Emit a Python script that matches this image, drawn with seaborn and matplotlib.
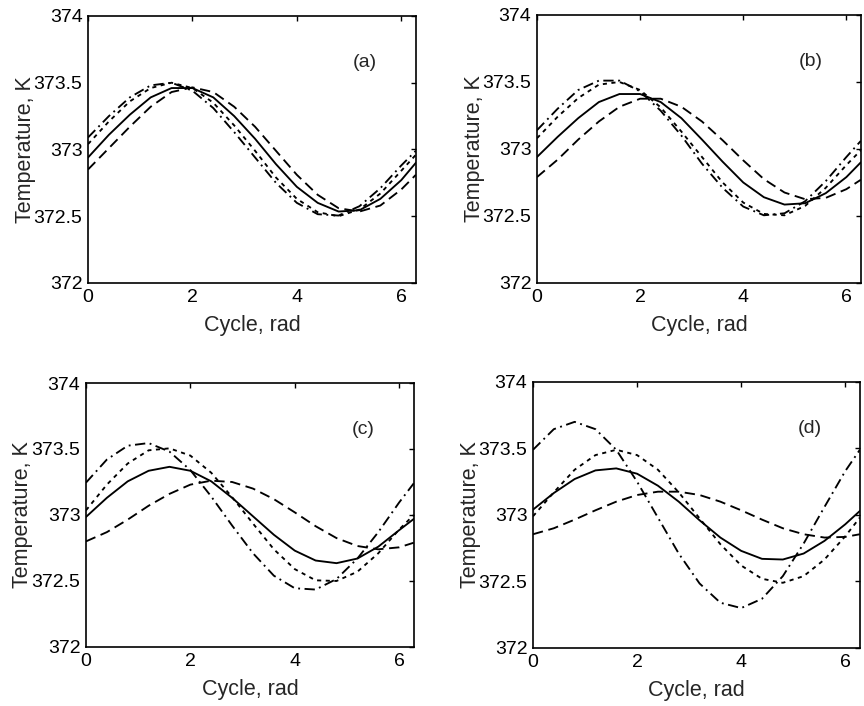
import numpy as np
import pandas as pd
import matplotlib
matplotlib.use("Agg")
import matplotlib.pyplot as plt
import seaborn as sns

# ---------------- data ----------------
cycle = [0.0, 0.4, 0.8, 1.2, 1.6, 2.0, 2.4, 2.8, 3.2, 3.6, 4.0, 4.4, 4.8, 5.2, 5.6, 6.0, 6.28]

a_solid   = [372.94, 373.11, 373.26, 373.39, 373.46, 373.46, 373.39, 373.25, 373.08, 372.89, 372.72, 372.60, 372.535, 372.545, 372.63, 372.77, 372.90]
a_dotted  = [373.04, 373.21, 373.36, 373.46, 373.50, 373.46, 373.35, 373.18, 372.99, 372.79, 372.63, 372.53, 372.50, 372.55, 372.67, 372.84, 372.96]
a_dashdot = [373.09, 373.25, 373.39, 373.48, 373.50, 373.44, 373.31, 373.13, 372.94, 372.75, 372.60, 372.515, 372.505, 372.575, 372.71, 372.88, 372.99]
a_dashed  = [372.85, 373.01, 373.17, 373.32, 373.43, 373.465, 373.43, 373.32, 373.17, 372.99, 372.81, 372.66, 372.56, 372.535, 372.58, 372.70, 372.81]

b_solid   = [372.94, 373.09, 373.23, 373.35, 373.41, 373.41, 373.35, 373.23, 373.07, 372.905, 372.75, 372.64, 372.585, 372.595, 372.67, 372.79, 372.90]
b_dotted  = [373.08, 373.24, 373.38, 373.48, 373.50, 373.44, 373.31, 373.13, 372.94, 372.75, 372.60, 372.515, 372.505, 372.575, 372.71, 372.88, 372.99]
b_dashdot = [373.14, 373.30, 373.44, 373.51, 373.51, 373.43, 373.285, 373.10, 372.89, 372.71, 372.57, 372.505, 372.52, 372.61, 372.76, 372.94, 373.06]
b_dashed  = [372.79, 372.92, 373.07, 373.205, 373.315, 373.375, 373.375, 373.315, 373.205, 373.065, 372.915, 372.775, 372.675, 372.625, 372.635, 372.70, 372.77]

c_solid   = [372.985, 373.13, 373.255, 373.335, 373.365, 373.335, 373.255, 373.13, 372.99, 372.85, 372.73, 372.655, 372.635, 372.67, 372.76, 372.885, 372.97]
c_dotted  = [373.035, 373.23, 373.39, 373.49, 373.505, 373.45, 373.32, 373.135, 372.935, 372.74, 372.59, 372.505, 372.50, 372.57, 372.71, 372.89, 373.00]
c_dashdot = [373.245, 373.42, 373.525, 373.545, 373.48, 373.34, 373.14, 372.92, 372.71, 372.54, 372.445, 372.435, 372.515, 372.67, 372.87, 373.095, 373.24]
c_dashed  = [372.80, 372.87, 372.965, 373.07, 373.16, 373.23, 373.26, 373.25, 373.20, 373.12, 373.02, 372.915, 372.825, 372.765, 372.74, 372.755, 372.79]

d_solid   = [373.04, 373.165, 373.27, 373.335, 373.35, 373.31, 373.22, 373.10, 372.96, 372.83, 372.73, 372.67, 372.665, 372.71, 372.805, 372.93, 373.03]
d_dotted  = [372.99, 373.17, 373.34, 373.45, 373.49, 373.45, 373.34, 373.17, 372.975, 372.78, 372.62, 372.52, 372.49, 372.54, 372.665, 372.84, 372.98]
d_dashdot = [373.49, 373.645, 373.70, 373.645, 373.49, 373.25, 372.98, 372.71, 372.485, 372.34, 372.30, 372.37, 372.54, 372.785, 373.06, 373.33, 373.49]
d_dashed  = [372.855, 372.90, 372.965, 373.035, 373.10, 373.15, 373.175, 373.175, 373.15, 373.10, 373.035, 372.965, 372.90, 372.855, 372.83, 372.835, 372.855]

panel_labels = ["(a)", "(b)", "(c)", "(d)"]
curve_names = ["solid", "dotted", "dashdot", "dashed"]
x_ticks = [0, 2, 4, 6]
x_tick_labels = ["0", "2", "4", "6"]
y_ticks = [372, 372.5, 373, 373.5, 374]
y_tick_labels = ["372", "372.5", "373", "373.5", "374"]
x_label = "Cycle, rad"
y_label = "Temperature, K"

panels = [
    [a_solid, a_dotted, a_dashdot, a_dashed],
    [b_solid, b_dotted, b_dashdot, b_dashed],
    [c_solid, c_dotted, c_dashdot, c_dashed],
    [d_solid, d_dotted, d_dashdot, d_dashed],
]

# ---------------- style ----------------
sns.set_style("white")
plt.rcParams['font.family'] = ['Liberation Sans', 'DejaVu Sans']

fig = plt.figure(figsize=(8.64, 7.06), dpi=100)
positions = [
    [0.1019, 0.5992, 0.3796, 0.3782],
    [0.6215, 0.5992, 0.3750, 0.3796],
    [0.0995, 0.0836, 0.3796, 0.3739],
    [0.6169, 0.0822, 0.3785, 0.3768],
]
dash_map = {"solid": "", "dotted": (2.2, 2.4), "dashdot": (5.5, 2.4, 1.0, 2.4), "dashed": (5.5, 3.0)}

for pos, curves, lab in zip(positions, panels, panel_labels):
    ax = fig.add_axes(pos)
    frames = []
    for name, vals in zip(curve_names, curves):
        frames.append(pd.DataFrame({"cycle": cycle, "T": vals, "curve": name}))
    df = pd.concat(frames, ignore_index=True)
    sns.lineplot(data=df, x="cycle", y="T", style="curve", style_order=curve_names,
                 dashes=dash_map, color="black", linewidth=1.35, legend=False,
                 estimator=None, sort=False, ax=ax)
    ax.set_xlim(0, 2 * np.pi)
    ax.set_ylim(372, 374)
    ax.set_xticks(x_ticks)
    ax.set_xticklabels(x_tick_labels)
    ax.set_yticks(y_ticks)
    ax.set_yticklabels(y_tick_labels)
    ax.tick_params(direction="in", top=True, right=True, length=3.5, width=1,
                   labelsize=14, pad=4, colors="black")
    for s in ax.spines.values():
        s.set_visible(True)
        s.set_color("black")
        s.set_linewidth(1.2)
    ax.set_xlabel(x_label, fontsize=15.5, labelpad=7)
    ax.set_ylabel(y_label, fontsize=15.5)
    ax.yaxis.set_label_coords(-0.16, 0.5)
    ax.text(0.845, 0.825, lab, transform=ax.transAxes, ha="center", va="center", fontsize=14)
    ax.set_facecolor("white")

fig.savefig("out.png", dpi=100, facecolor="white")
